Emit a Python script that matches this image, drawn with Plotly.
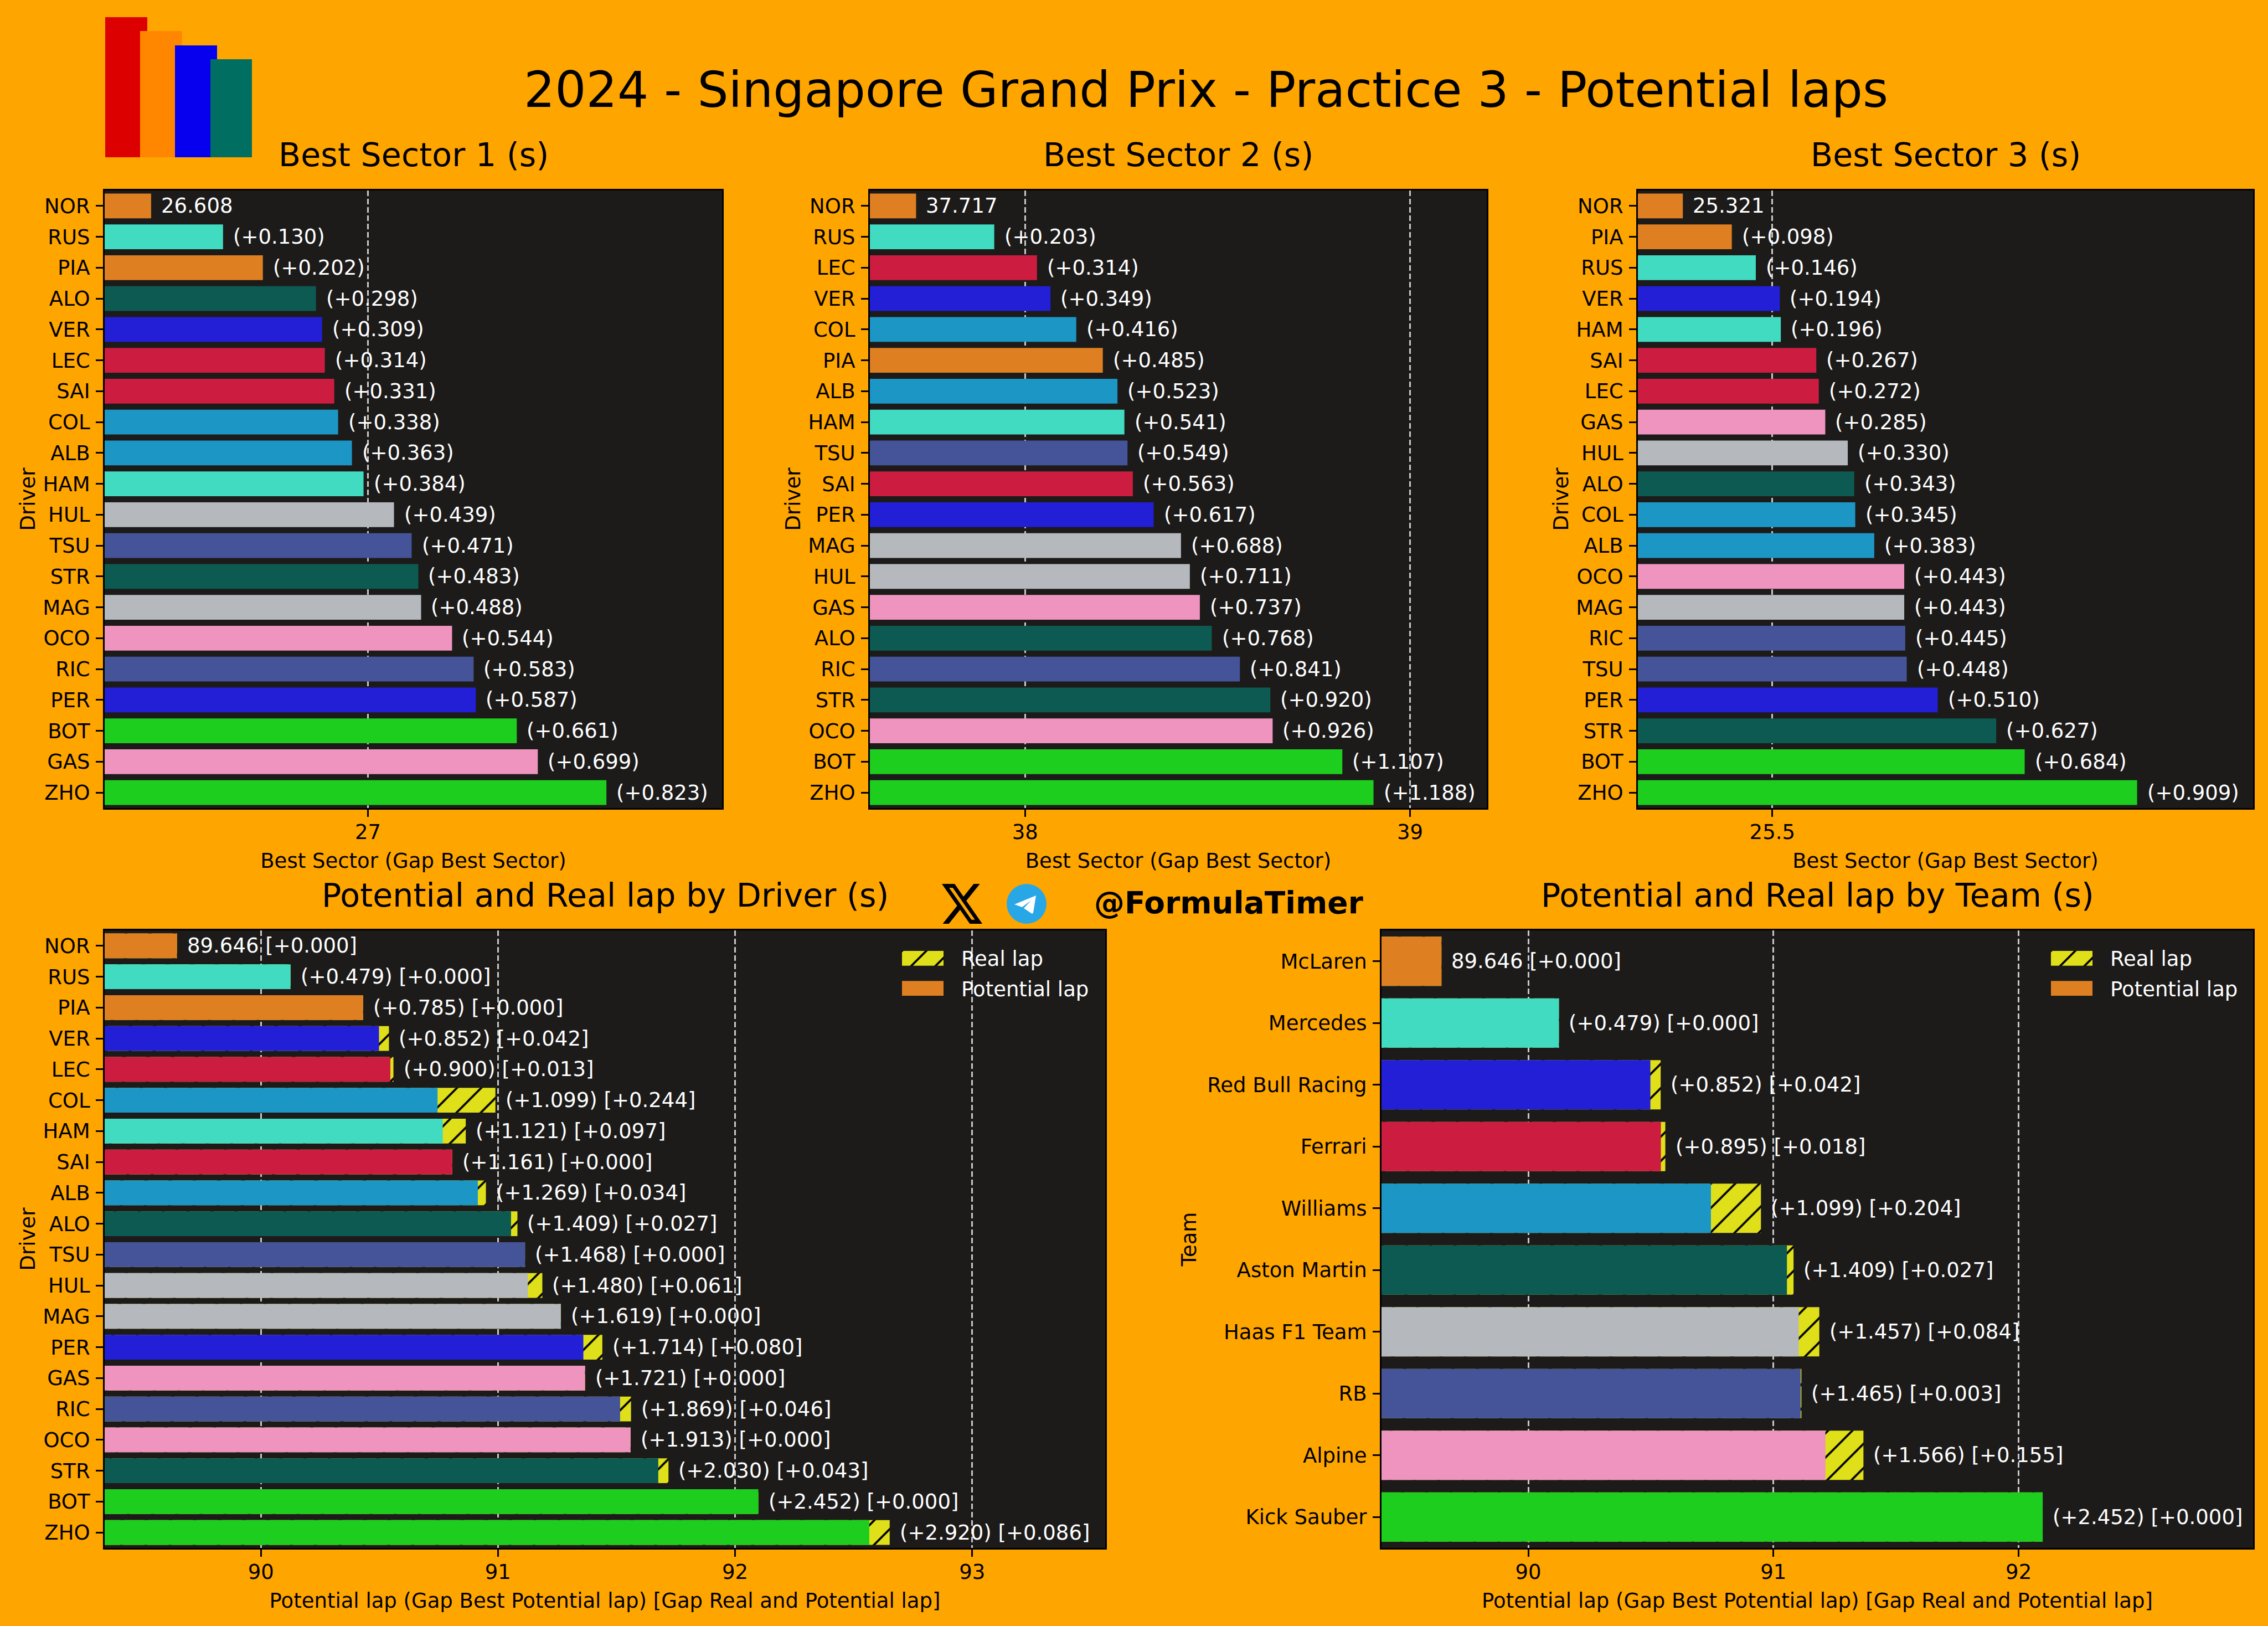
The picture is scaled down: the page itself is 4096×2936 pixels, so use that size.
"""
Potential laps chart - 2024 Singapore GP, Practice 3
"""
import plotly.graph_objects as go

W, H = 4096, 2936
FONT = "DejaVu Sans"
BG = "#FFA500"
PANEL_BG = "#1C1B1A"
REAL_COLOR = "#E0E01A"

# Data
S1_DRIVERS = ["NOR", "RUS", "PIA", "ALO", "VER", "LEC", "SAI", "COL", "ALB", "HAM",
              "HUL", "TSU", "STR", "MAG", "OCO", "RIC", "PER", "BOT", "GAS", "ZHO"]
S1_GAPS = [0.000, 0.130, 0.202, 0.298, 0.309, 0.314, 0.331, 0.338, 0.363, 0.384,
           0.439, 0.471, 0.483, 0.488, 0.544, 0.583, 0.587, 0.661, 0.699, 0.823]
S1_BEST = 26.608

S2_DRIVERS = ["NOR", "RUS", "LEC", "VER", "COL", "PIA", "ALB", "HAM", "TSU", "SAI",
              "PER", "MAG", "HUL", "GAS", "ALO", "RIC", "STR", "OCO", "BOT", "ZHO"]
S2_GAPS = [0.000, 0.203, 0.314, 0.349, 0.416, 0.485, 0.523, 0.541, 0.549, 0.563,
           0.617, 0.688, 0.711, 0.737, 0.768, 0.841, 0.920, 0.926, 1.107, 1.188]
S2_BEST = 37.717

S3_DRIVERS = ["NOR", "PIA", "RUS", "VER", "HAM", "SAI", "LEC", "GAS", "HUL", "ALO",
              "COL", "ALB", "OCO", "MAG", "RIC", "TSU", "PER", "STR", "BOT", "ZHO"]
S3_GAPS = [0.000, 0.098, 0.146, 0.194, 0.196, 0.267, 0.272, 0.285, 0.330, 0.343,
           0.345, 0.383, 0.443, 0.443, 0.445, 0.448, 0.510, 0.627, 0.684, 0.909]
S3_BEST = 25.321

LAP_DRIVERS = ["NOR", "RUS", "PIA", "VER", "LEC", "COL", "HAM", "SAI", "ALB", "ALO",
               "TSU", "HUL", "MAG", "PER", "GAS", "RIC", "OCO", "STR", "BOT", "ZHO"]
LAP_GAPS = [0.000, 0.479, 0.785, 0.852, 0.900, 1.099, 1.121, 1.161, 1.269, 1.409,
            1.468, 1.480, 1.619, 1.714, 1.721, 1.869, 1.913, 2.030, 2.452, 2.920]
LAP_REAL = [0.000, 0.000, 0.000, 0.042, 0.013, 0.244, 0.097, 0.000, 0.034, 0.027,
            0.000, 0.061, 0.000, 0.080, 0.000, 0.046, 0.000, 0.043, 0.000, 0.086]

TEAMS = ["McLaren", "Mercedes", "Red Bull Racing", "Ferrari", "Williams",
         "Aston Martin", "Haas F1 Team", "RB", "Alpine", "Kick Sauber"]
TEAM_GAPS = [0.000, 0.479, 0.852, 0.895, 1.099, 1.409, 1.457, 1.465, 1.566, 2.452]
TEAM_REAL = [0.000, 0.000, 0.042, 0.018, 0.204, 0.027, 0.084, 0.003, 0.155, 0.000]
BEST_LAP = 89.646

TEAM_COLORS = {
    "McLaren": "#DE7F21", "Mercedes": "#41DBC2", "Red Bull Racing": "#221FD6",
    "Ferrari": "#CC1D40", "Williams": "#1C96C5", "Aston Martin": "#0D5A52",
    "Haas F1 Team": "#B5B9BD", "RB": "#455499", "Alpine": "#EE94BF",
    "Kick Sauber": "#1ECE1E",
}
DRIVER_TEAM = {
    "NOR": "McLaren", "PIA": "McLaren", "RUS": "Mercedes", "HAM": "Mercedes",
    "VER": "Red Bull Racing", "PER": "Red Bull Racing", "LEC": "Ferrari", "SAI": "Ferrari",
    "COL": "Williams", "ALB": "Williams", "ALO": "Aston Martin", "STR": "Aston Martin",
    "HUL": "Haas F1 Team", "MAG": "Haas F1 Team", "TSU": "RB", "RIC": "RB",
    "GAS": "Alpine", "OCO": "Alpine", "BOT": "Kick Sauber", "ZHO": "Kick Sauber",
}

HATCH = dict(shape="/", size=31, solidity=0.12, fgcolor="black",
             bgcolor=REAL_COLOR, fillmode="replace")


def px(x):
    return x / W


def py(y):
    return 1 - y / H


def driver_colors(drivers):
    return [TEAM_COLORS[DRIVER_TEAM[d]] for d in drivers]


fig = go.Figure()
annotations = []
shapes = []


def text_note(text, x, y, size, weight="normal", color="black", xanchor="center"):
    annotations.append(dict(
        text=text, x=px(x), y=py(y), xref="paper", yref="paper", showarrow=False,
        xanchor=xanchor, yanchor="middle",
        font=dict(family=FONT, size=size, color=color, weight=weight),
    ))


def setup_axes(n, box, xrange, xticks, ytitle, xtitle, count, title, title_y, ystandoff):
    x0, x1, y0, y1 = box
    line = dict(showline=True, linecolor="black", linewidth=3, mirror=True,
                ticks="outside", ticklen=13, tickwidth=3, tickcolor="black",
                tickfont=dict(family=FONT, size=37, color="black"))
    fig.update_layout({
        f"xaxis{n}": dict(
            domain=[px(x0), px(x1)], anchor=f"y{n}", range=xrange, tickvals=xticks,
            showgrid=True, gridcolor="#C8C8C8", gridwidth=2.5, griddash="10px,5px",
            zeroline=False, ticklabelstandoff=-4,
            title=dict(text=xtitle, font=dict(family=FONT, size=37, color="black"), standoff=18),
            **line),
        f"yaxis{n}": dict(
            domain=[py(y1), py(y0)], anchor=f"x{n}", range=[count - 0.5, -0.5],
            type="category", showgrid=False, zeroline=False, ticklabelstandoff=3,
            title=dict(text=ytitle, font=dict(family=FONT, size=37, color="black"), standoff=ystandoff),
            **line),
    })
    text_note(title, (x0 + x1) / 2, title_y, 58.7)


def add_labels(n, names, values, labels):
    for name, value, label in zip(names, values, labels):
        annotations.append(dict(
            text=label, x=value, y=name, xref=f"x{n}", yref=f"y{n}", showarrow=False,
            xanchor="left", yanchor="middle", xshift=16,
            font=dict(family=FONT, size=37, color="white"),
        ))


def sector_panel(n, box, xrange, xticks, drivers, gaps, best, title):
    values = [best + g for g in gaps]
    fig.add_trace(go.Bar(
        x=values, y=drivers, orientation="h", width=0.8,
        marker=dict(color=driver_colors(drivers), line=dict(width=0)),
        xaxis=f"x{n}", yaxis=f"y{n}",
    ))
    setup_axes(n, box, xrange, xticks, "Driver", "Best Sector (Gap Best Sector)",
               len(drivers), title, 280, 3)
    labels = [f"{best:.3f}" if g == 0 else f"(+{g:.3f})" for g in gaps]
    add_labels(n, drivers, values, labels)


def lap_panel(n, box, xrange, xticks, names, colors, gaps, real, ytitle, title, ystandoff):
    potential = [BEST_LAP + g for g in gaps]
    real_lap = [p + r for p, r in zip(potential, real)]
    fig.add_trace(go.Bar(
        x=real_lap, y=names, orientation="h", width=0.8,
        marker=dict(color=REAL_COLOR, line=dict(width=0), pattern=HATCH),
        xaxis=f"x{n}", yaxis=f"y{n}",
    ))
    fig.add_trace(go.Bar(
        x=potential, y=names, orientation="h", width=0.8,
        marker=dict(color=colors, line=dict(width=0)),
        xaxis=f"x{n}", yaxis=f"y{n}",
    ))
    setup_axes(n, box, xrange, xticks, ytitle,
               "Potential lap (Gap Best Potential lap) [Gap Real and Potential lap]",
               len(names), title, 1617, ystandoff)
    labels = [f"{BEST_LAP:.3f} [+{r:.3f}]" if g == 0 else f"(+{g:.3f}) [+{r:.3f}]"
              for g, r in zip(gaps, real)]
    add_labels(n, names, real_lap, labels)


def legend_keys(n, x0, text_x):
    # hatched key is bigger than a plotly legend swatch, so it gets its own small axes
    fig.add_trace(go.Bar(
        x=[1], y=[0], orientation="h", width=0.49,
        marker=dict(color=REAL_COLOR, line=dict(width=0), pattern=HATCH),
        xaxis=f"x{n}", yaxis=f"y{n}",
    ))
    fig.add_trace(go.Bar(
        x=[1], y=[1], orientation="h", width=0.49,
        marker=dict(color=TEAM_COLORS["McLaren"], line=dict(width=0)),
        xaxis=f"x{n}", yaxis=f"y{n}",
    ))
    fig.update_layout({
        f"xaxis{n}": dict(domain=[px(x0), px(x0 + 75)], anchor=f"y{n}", range=[0, 1], visible=False),
        f"yaxis{n}": dict(domain=[py(1798), py(1717)], anchor=f"x{n}", range=[1.245, -0.245], visible=False),
    })
    text_note("Real lap", text_x, 1731, 37, color="white", xanchor="left")
    text_note("Potential lap", text_x, 1786, 37, color="white", xanchor="left")


sector_panel(1, (189, 1304, 344, 1459), [26.524, 27.64], [27], S1_DRIVERS, S1_GAPS, S1_BEST, "Best Sector 1 (s)")
sector_panel(2, (1571, 2685, 344, 1459), [37.597, 39.199], [38, 39], S2_DRIVERS, S2_GAPS, S2_BEST, "Best Sector 2 (s)")
sector_panel(3, (2958, 4069, 344, 1459), [25.231, 26.462], [25.5], S3_DRIVERS, S3_GAPS, S3_BEST, "Best Sector 3 (s)")
lap_panel(4, (189, 1996, 1680, 2795), [89.341, 93.561], [90, 91, 92, 93], LAP_DRIVERS,
          driver_colors(LAP_DRIVERS), LAP_GAPS, LAP_REAL, "Driver",
          "Potential and Real lap by Driver (s)", 3)
lap_panel(5, (2495, 4069, 1680, 2795), [89.4015, 92.956], [90, 91, 92], TEAMS,
          [TEAM_COLORS[t] for t in TEAMS], TEAM_GAPS, TEAM_REAL, "Team",
          "Potential and Real lap by Team (s)", 9)
legend_keys(6, 1629, 1734)
legend_keys(7, 3704, 3809)

# logo top left
for color, x0, x1, y0 in [("#DC0000", 190, 266, 31), ("#FF8700", 253, 329, 56),
                          ("#0600EF", 316, 392, 82), ("#006F62", 380, 455, 107)]:
    shapes.append(dict(type="rect", xref="paper", yref="paper", x0=px(x0), x1=px(x1),
                       y0=py(284), y1=py(y0), fillcolor=color, line=dict(width=0), layer="above"))


def poly_path(points):
    return "M" + "L".join(f"{px(x):.5f},{py(y):.5f}" for x, y in points) + "Z"


def x_logo_point(x, y):
    return 1701 + (x - 1.254) * 73 / 21.573, 1596 + (y - 2.25) * 72 / 19.5


# X logo
outer = [(18.244, 2.25), (21.552, 2.25), (14.325, 10.51), (22.827, 21.75), (16.17, 21.75),
         (10.956, 14.933), (4.99, 21.75), (1.68, 21.75), (9.41, 12.915), (1.254, 2.25),
         (8.08, 2.25), (12.793, 8.481)]
inner = [(17.083, 19.77), (18.916, 19.77), (7.084, 4.126), (5.117, 4.126)]
shapes.append(dict(type="path", xref="paper", yref="paper",
                   path=poly_path([x_logo_point(*p) for p in outer]) + poly_path([x_logo_point(*p) for p in inner]),
                   fillcolor="black", line=dict(width=0), layer="above"))

# Telegram logo
shapes.append(dict(type="circle", xref="paper", yref="paper", x0=px(1818), x1=px(1890),
                   y0=py(1668), y1=py(1596), fillcolor="#28A7E6", line=dict(width=0), layer="above"))
shapes.append(dict(type="path", xref="paper", yref="paper",
                   path=poly_path([(1871, 1617), (1832, 1633), (1846, 1638), (1862, 1626),
                                   (1849, 1640), (1864, 1650), (1866, 1648)]),
                   fillcolor="white", line=dict(width=0), layer="above"))

text_note("@FormulaTimer", 2219, 1630, 55, weight="bold")

fig.update_layout(
    width=W, height=H,
    margin=dict(l=0, r=0, t=0, b=0),
    paper_bgcolor=BG, plot_bgcolor=PANEL_BG,
    barmode="overlay", showlegend=False,
    title=dict(text="2024 - Singapore Grand Prix - Practice 3 - Potential laps",
               x=px(2178), y=py(162), xanchor="center", yanchor="middle",
               font=dict(family=FONT, size=88.5, color="black")),
    annotations=annotations, shapes=shapes,
)

fig.write_html("out.html", config=dict(displayModeBar=False),
               post_script="document.body.style.margin='0';document.body.style.background='#FFA500';")
